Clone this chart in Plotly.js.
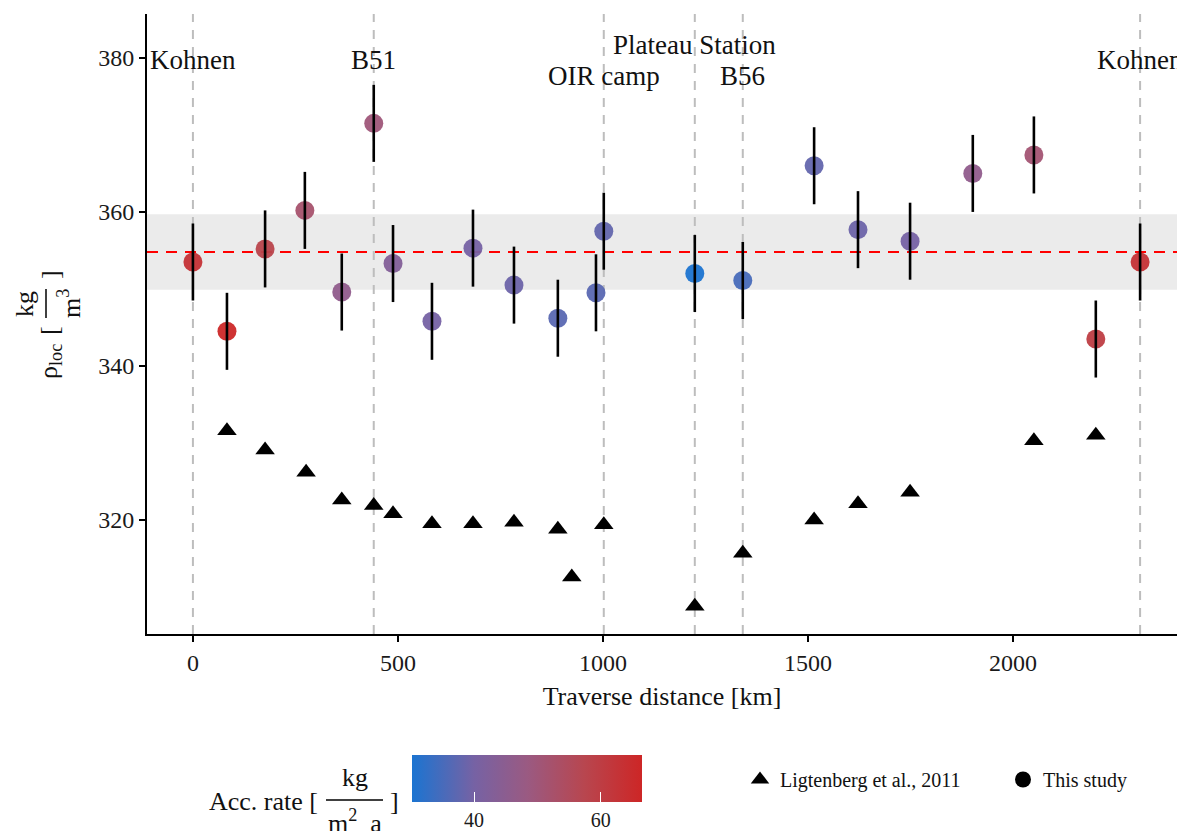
<!DOCTYPE html>
<html>
<head>
<meta charset="utf-8">
<script src="https://cdn.plot.ly/plotly-3.0.1.min.js"></script>
<style>html,body{margin:0;padding:0;background:#fff;}#chart{width:1177px;height:831px;}</style>
</head>
<body>
<div id="chart"></div>
<script>
// ---- data ----
const studyDist = [0, 83, 176, 273, 363, 441, 488, 583, 683, 783, 890, 983, 1002, 1224, 1341, 1515, 1622, 1749, 1902, 2051, 2202, 2310];
const studyRho  = [353.5, 344.5, 355.2, 360.2, 349.6, 371.5, 353.3, 345.8, 355.3, 350.5, 346.2, 349.5, 357.5, 352.0, 351.1, 366.0, 357.7, 356.2, 365.0, 367.4, 343.5, 353.5];
const studyErr  = [5.0, 5.0, 5.0, 5.0, 5.0, 5.0, 5.0, 5.0, 5.0, 5.0, 5.0, 5.0, 5.0, 5.0, 5.0, 5.0, 5.0, 5.0, 5.0, 5.0, 5.0, 5.0];
const studyAcc  = [63, 66, 58, 52, 46, 50, 43, 40, 40, 39, 37, 37, 38, 30.3, 35, 38, 39, 40, 46, 51, 60, 63];

const ligDist = [83, 176, 276, 363, 441, 488, 583, 683, 783, 890, 924, 1002, 1224, 1341, 1515, 1622, 1749, 2051, 2202];
const ligRho  = [331.6, 329.1, 326.2, 322.6, 321.9, 320.8, 319.5, 319.5, 319.7, 318.8, 312.6, 319.4, 308.8, 315.7, 320.0, 322.1, 323.6, 330.3, 331.0];

const stationNames = ["Kohnen", "B51", "Plateau Station", "OIR camp", "B56", "Kohnen"];
const stationDist  = [0, 441, 1224, 1002, 1341, 2310];
const stationLabelY = [379.7, 379.7, 381.7, 377.7, 377.7, 379.7];
const lineDist = [0, 441, 1002, 1224, 1341, 2310];

const meanRho = 354.8;
const bandLow = 349.9, bandHigh = 359.7;
const accMin = 30.2, accMax = 66.5;

const xTicks = [0, 500, 1000, 1500, 2000];
const yTicks = [320, 340, 360, 380];
const accTicks = [40, 60];

// ---- layout helpers (pixel -> paper) ----
const W = 1177, H = 831, L = 147, T = 14, B = 634;
const px = x => (x - L) / (W - L);
const py = y => (B - y) / (B - T);
const serif = "Liberation Serif, Times New Roman, serif";

const colorscale = [[0, '#1B74D1'], [0.27, '#7662A4'], [0.5, '#9A5A82'], [0.75, '#B8464F'], [1, '#CD2626']];

const traces = [
  {
    x: ligDist, y: ligRho, type: 'scatter', mode: 'markers', name: 'Ligtenberg et al., 2011',
    marker: {symbol: 'triangle-up', size: 17, color: '#000'}, showlegend: false, hoverinfo: 'x+y'
  },
  {
    x: studyDist, y: studyRho, type: 'scatter', mode: 'markers', name: 'This study', showlegend: false,
    marker: {
      size: 19, color: studyAcc, colorscale: colorscale, cmin: accMin, cmax: accMax, opacity: 0.95,
      colorbar: {
        orientation: 'h', x: px(412), xanchor: 'left', y: py(755), yanchor: 'top',
        len: 230, lenmode: 'pixels', thickness: 47, thicknessmode: 'pixels',
        xpad: 0, ypad: 0, outlinewidth: 0,
        tickvals: accTicks, ticks: 'inside', ticklen: 10, tickcolor: '#fff', tickwidth: 1,
        tickfont: {family: serif, size: 20, color: '#1a1a1a'}
      }
    }
  },
  {
    x: studyDist, y: studyRho, type: 'scatter', mode: 'markers', showlegend: false, hoverinfo: 'skip',
    marker: {size: 1, color: 'rgba(0,0,0,0)'},
    error_y: {type: 'data', array: studyErr, visible: true, color: '#000', thickness: 2.6, width: 0}
  },
  {
    x: [null], y: [null], type: 'scatter', mode: 'markers', name: 'Ligtenberg et al., 2011',
    marker: {symbol: 'triangle-up', size: 19, color: '#000'}
  },
  {
    x: [null], y: [null], type: 'scatter', mode: 'markers', name: 'This study',
    marker: {symbol: 'circle', size: 19, color: '#000'}
  }
];

const shapes = [
  {type: 'rect', xref: 'paper', x0: 0, x1: 1, yref: 'y', y0: bandLow, y1: bandHigh,
   fillcolor: '#ebebeb', line: {width: 0}, layer: 'below'}
];
lineDist.forEach(d => shapes.push({
  type: 'line', xref: 'x', x0: d, x1: d, yref: 'paper', y0: 0, y1: 1,
  line: {color: '#bdbdbd', width: 2, dash: '9px,8px'}, layer: 'below'
}));
shapes.push({type: 'line', xref: 'paper', x0: 0, x1: 1, yref: 'y', y0: meanRho, y1: meanRho,
  line: {color: '#ff0000', width: 2.2, dash: '11px,8px'}, layer: 'below'});
// fraction bars for the y title and colour-bar title
shapes.push({type: 'line', xref: 'paper', yref: 'paper', x0: px(46), x1: px(46), y0: py(289), y1: py(318),
  line: {color: '#000', width: 1.5}});
shapes.push({type: 'line', xref: 'paper', yref: 'paper', x0: px(326), x1: px(383), y0: py(800), y1: py(800),
  line: {color: '#000', width: 1.5}});

const annotations = stationNames.map((n, i) => ({
  x: stationDist[i], y: stationLabelY[i], xref: 'x', yref: 'y', text: n, showarrow: false,
  font: {family: serif, size: 27, color: '#111'}, xanchor: 'center', yanchor: 'middle'
}));
const ann = (x, y, text, size, extra) => Object.assign({
  x: px(x), y: py(y), xref: 'paper', yref: 'paper', text: text, showarrow: false,
  font: {family: serif, size: size, color: '#111'}, xanchor: 'center', yanchor: 'middle'
}, extra || {});
// y-axis title: ρloc [ kg / m³ ]
annotations.push(ann(50, 362, 'ρ<sub>loc</sub>', 26, {textangle: -90}));
annotations.push(ann(50, 331, '[', 26, {textangle: -90}));
annotations.push(ann(24, 304, 'kg', 26, {textangle: -90}));
annotations.push(ann(69, 304, 'm<sup>3</sup>', 26, {textangle: -90}));
annotations.push(ann(50, 275, ']', 26, {textangle: -90}));
// colour-bar title: Acc. rate [ kg / (m² a) ]
annotations.push(ann(263, 801, 'Acc. rate [', 26));
annotations.push(ann(355, 777, 'kg', 26));
annotations.push(ann(355, 821, 'm<sup>2</sup>  a', 26));
annotations.push(ann(394, 801, ']', 26));

const layout = {
  width: W, height: H,
  margin: {l: L, r: 0, t: T, b: H - B, autoexpand: false},
  paper_bgcolor: '#fff', plot_bgcolor: '#fff',
  showlegend: true,
  legend: {
    orientation: 'h', x: px(740), y: py(760), xanchor: 'left', yanchor: 'top',
    font: {family: serif, size: 20, color: '#111'}, entrywidth: 218, entrywidthmode: 'pixels',
    bgcolor: 'rgba(0,0,0,0)'
  },
  xaxis: {
    range: [-112, 2400], tickvals: xTicks, ticks: 'outside', ticklen: 6, tickwidth: 1.5, tickcolor: '#000',
    showline: true, linecolor: '#000', linewidth: 2, showgrid: false, zeroline: false, automargin: false,
    tickfont: {family: serif, size: 24, color: '#1a1a1a'},
    title: {text: 'Traverse distance [km]', font: {family: serif, size: 26, color: '#111'}, standoff: 12}
  },
  yaxis: {
    range: [305.2, 385.7], tickvals: yTicks, ticks: 'outside', ticklen: 6, tickwidth: 1.5, tickcolor: '#000',
    showline: true, linecolor: '#000', linewidth: 2, showgrid: false, zeroline: false, automargin: false,
    tickfont: {family: serif, size: 24, color: '#1a1a1a'}
  },
  shapes: shapes,
  annotations: annotations
};

Plotly.newPlot('chart', traces, layout, {displayModeBar: false, staticPlot: true});
</script>
</body>
</html>
